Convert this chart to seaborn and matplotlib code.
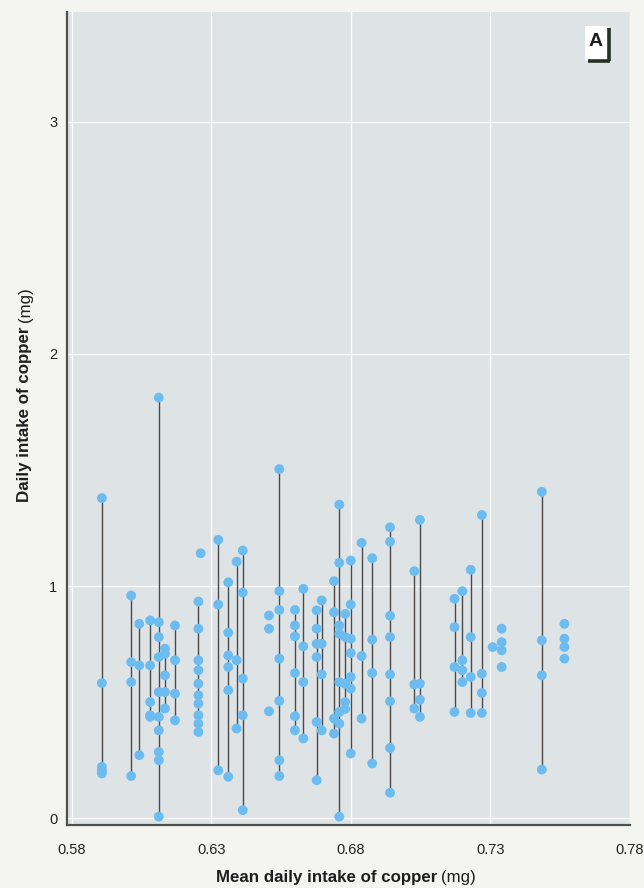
import numpy as np
import pandas as pd
import matplotlib
matplotlib.use("Agg")
import matplotlib.pyplot as plt
import seaborn as sns
from matplotlib.patches import Rectangle
from matplotlib.lines import Line2D

# ---- data ----
mean_intake = [0.5908, 0.6013, 0.6042, 0.6081, 0.6112, 0.6134, 0.6170, 0.6254, 0.6262,
               0.6325, 0.6361, 0.6391, 0.6413, 0.6507, 0.6544, 0.6600, 0.6630, 0.6678,
               0.6696, 0.6740, 0.6759, 0.6780, 0.6800, 0.6839, 0.6877, 0.6941, 0.7028,
               0.7048, 0.7172, 0.7200, 0.7230, 0.7270, 0.7309, 0.7341, 0.7485, 0.7566]
daily_intake = [
    [1.379, 0.582, 0.221, 0.205, 0.192],
    [0.959, 0.672, 0.586, 0.181],
    [0.837, 0.658, 0.271],
    [0.852, 0.658, 0.500, 0.443, 0.436],
    [1.812, 0.844, 0.780, 0.694, 0.543, 0.436, 0.378, 0.285, 0.249, 0.006],
    [0.730, 0.708, 0.615, 0.543, 0.472],
    [0.830, 0.680, 0.536, 0.421],
    [0.933, 0.816, 0.680, 0.637, 0.579, 0.529, 0.493, 0.443, 0.407, 0.371],
    [1.141],
    [1.199, 0.920, 0.206],
    [1.016, 0.799, 0.701, 0.651, 0.551, 0.178],
    [1.105, 0.680, 0.386],
    [1.153, 0.972, 0.601, 0.443, 0.034],
    [0.873, 0.816, 0.460],
    [1.504, 0.978, 0.897, 0.687, 0.505, 0.249, 0.181],
    [0.897, 0.830, 0.783, 0.625, 0.439, 0.378],
    [0.988, 0.740, 0.586, 0.343],
    [0.895, 0.816, 0.751, 0.694, 0.414, 0.163],
    [0.938, 0.751, 0.619, 0.378],
    [1.021, 0.887, 0.429, 0.364],
    [1.351, 1.100, 0.830, 0.794, 0.586, 0.457, 0.407, 0.006],
    [0.880, 0.780, 0.579, 0.500, 0.470],
    [1.110, 0.920, 0.773, 0.711, 0.608, 0.558, 0.278],
    [1.186, 0.698, 0.429],
    [1.120, 0.769, 0.625, 0.235],
    [1.253, 1.191, 0.872, 0.780, 0.619, 0.503, 0.302, 0.109],
    [1.064, 0.576, 0.472],
    [1.285, 0.579, 0.510, 0.436],
    [0.945, 0.823, 0.651, 0.457],
    [0.978, 0.680, 0.637, 0.586],
    [1.070, 0.780, 0.608, 0.453],
    [1.306, 0.622, 0.539, 0.453],
    [0.737],
    [0.816, 0.758, 0.723, 0.651],
    [1.406, 0.766, 0.615, 0.209],
    [0.837, 0.773, 0.737, 0.687],
]
range_drawn = [True] * 13 + [False] + [True] * 19 + [False, True, False]
x_ticks = [0.58, 0.63, 0.68, 0.73, 0.78]
x_ticklabels = ["0.58", "0.63", "0.68", "0.73", "0.78"]
y_ticks = [0, 1, 2, 3]
y_ticklabels = ["0", "1", "2", "3"]
x_title_bold = "Mean daily intake of copper"
y_title_bold = "Daily intake of copper"
unit = "(mg)"
panel_letter = "A"

rows = []
for gi, (m, vals) in enumerate(zip(mean_intake, daily_intake)):
    for v in vals:
        rows.append({"group": gi, "mean": m, "daily": v})
df = pd.DataFrame(rows)
rng = df.groupby("group").agg(mean=("mean", "first"), lo=("daily", "min"), hi=("daily", "max"))
rng = rng[np.array(range_drawn)]

# ---- style ----
sns.set_style("white")
plt.rcParams["font.family"] = ["Liberation Sans", "DejaVu Sans"]

W, H, DPI = 644, 888, 100
fig = plt.figure(figsize=(W / DPI, H / DPI), dpi=DPI, facecolor="#f4f4f1")
ax = fig.add_axes([67 / W, 1 - 825 / H, (630 - 67) / W, (825 - 12) / H])
ax.set_facecolor("#dee3e6")

ax.vlines(rng["mean"], rng["lo"], rng["hi"], color="#4a4a48", lw=1.0, zorder=2)
sns.scatterplot(data=df, x="mean", y="daily", color="#6cbcf0", s=50,
                edgecolor="none", linewidth=0, legend=False, ax=ax, zorder=3)

ax.set_xlim(0.5783, 0.7801)
ax.set_ylim(-0.03, 3.474)
ax.set_xticks(x_ticks)
ax.set_xticklabels(x_ticklabels)
ax.set_yticks(y_ticks)
ax.set_yticklabels(y_ticklabels)
ax.tick_params(axis="both", length=0, labelsize=10.5, labelcolor="#222222")
ax.tick_params(axis="x", pad=13)
ax.tick_params(axis="y", pad=7)
ax.grid(True, color="white", lw=1.0)
ax.set_axisbelow(True)
ax.set_xlabel("")
ax.set_ylabel("")
for s in ["top", "right"]:
    ax.spines[s].set_visible(False)
for s in ["left", "bottom"]:
    ax.spines[s].set_color("#4d524d")
    ax.spines[s].set_linewidth(1.6)

# ---- titles with bold + regular parts ----
fig.canvas.draw()
r = fig.canvas.get_renderer()
fs = 12.2
gap = 4
tb = fig.text(0, 0, x_title_bold, fontsize=fs, fontweight="bold", color="#1e1e1e",
              ha="left", va="baseline")
tu = fig.text(0, 0, unit, fontsize=fs, color="#1e1e1e", ha="left", va="baseline")
wb = tb.get_window_extent(r).width
wu = tu.get_window_extent(r).width
cx = 346
x0 = cx - (wb + gap + wu) / 2
yb = 1 - 882 / H
tb.set_position((x0 / W, yb))
tu.set_position(((x0 + wb + gap) / W, yb))

yt = fig.text(0, 0, y_title_bold, fontsize=fs, fontweight="bold", color="#1e1e1e",
              rotation=90, ha="center", va="bottom")
yu = fig.text(0, 0, unit, fontsize=fs, color="#1e1e1e", rotation=90,
              ha="center", va="bottom")
hb = yt.get_window_extent(r).height
bottom_px = 502
yt.set_position((25 / W, 1 - bottom_px / H))
yu.set_position((25 / W, 1 - (bottom_px - hb - gap) / H))

# ---- panel letter box ----
fig.patches.append(Rectangle((585 / W, 1 - 61 / H), 24 / W, 35 / H, transform=fig.transFigure,
                             facecolor="white", edgecolor="none", zorder=5))
fig.lines.append(Line2D([609 / W, 609 / W], [1 - 28 / H, 1 - 61 / H], transform=fig.transFigure,
                        color="#243024", lw=2.6, zorder=6, solid_capstyle="butt"))
fig.lines.append(Line2D([588 / W, 610.3 / W], [1 - 61 / H, 1 - 61 / H], transform=fig.transFigure,
                        color="#243024", lw=2.6, zorder=6, solid_capstyle="butt"))
fig.text(596 / W, 1 - 41 / H, panel_letter, fontsize=14, fontweight="bold", color="#1e1e1e",
         ha="center", va="center", zorder=7)

fig.savefig("out.png", dpi=DPI, facecolor=fig.get_facecolor())
